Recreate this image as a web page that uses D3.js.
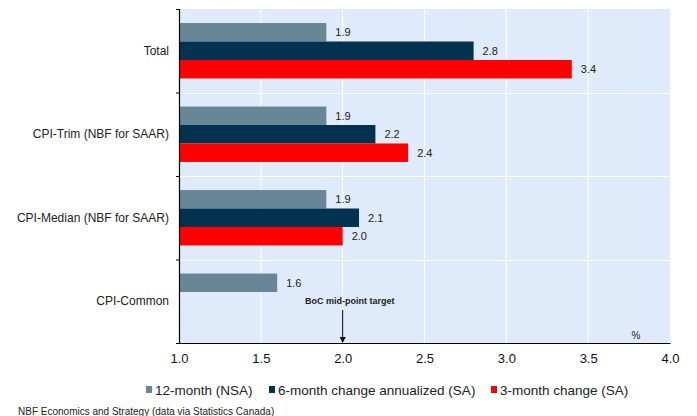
<!DOCTYPE html>
<html>
<head>
<meta charset="utf-8">
<script src="https://cdn.jsdelivr.net/npm/d3@7"></script>
<style>
  html, body { margin: 0; padding: 0; background: #ffffff; }
  svg { display: block; font-family: "Liberation Sans", Arial, sans-serif; }
</style>
</head>
<body>
<svg id="chart" width="697" height="416"></svg>
<script>
// Inflation measures, % change
const categories = ["Total", "CPI-Trim (NBF for SAAR)", "CPI-Median (NBF for SAAR)", "CPI-Common"];
const seriesNames = ["12-month (NSA)", "6-month change annualized (SA)", "3-month change (SA)"];
const twelveMonth = [1.9, 1.9, 1.9, 1.6];
const sixMonthAnnualized = [2.8, 2.2, 2.1, null];
const threeMonth = [3.4, 2.4, 2.0, null];
const seriesColors = ["#688796", "#02324f", "#ff0000"];
const xTicks = [1.0, 1.5, 2.0, 2.5, 3.0, 3.5, 4.0];
const targetValue = 2.0;

const seriesValues = [twelveMonth, sixMonthAnnualized, threeMonth];

const svg = d3.select("#chart");
const plot = { left: 179, right: 670, top: 9, bottom: 343 };

const x = d3.scaleLinear().domain([1, 4]).range([plot.left, plot.right]);
const y = d3.scaleBand().domain(categories).range([plot.top, plot.bottom]).padding(0);
const ySub = d3.scaleBand().domain(seriesNames).range([0, y.bandwidth()])
  .paddingInner(0).paddingOuter(0.76);

// plot background
svg.append("rect")
  .attr("x", plot.left).attr("y", plot.top)
  .attr("width", plot.right - plot.left).attr("height", plot.bottom - plot.top)
  .attr("fill", "#dfeafb");

// vertical gridlines
svg.append("g").selectAll("line")
  .data(xTicks.slice(1, -1))
  .join("line")
  .attr("x1", d => x(d)).attr("x2", d => x(d))
  .attr("y1", plot.top).attr("y2", plot.bottom)
  .attr("stroke", "#ffffff").attr("stroke-width", 1);

// horizontal separators between categories
svg.append("g").selectAll("line")
  .data(categories.slice(1))
  .join("line")
  .attr("x1", plot.left).attr("x2", plot.right)
  .attr("y1", d => Math.round(y(d)) + 0.5).attr("y2", d => Math.round(y(d)) + 0.5)
  .attr("stroke", "#ffffff").attr("stroke-width", 1);

// bars
const rows = [];
categories.forEach((c, ci) => {
  seriesNames.forEach((s, si) => {
    const v = seriesValues[si][ci];
    if (v !== null) rows.push({ category: c, series: s, si, value: v });
  });
});

svg.append("g").selectAll("rect")
  .data(rows)
  .join("rect")
  .attr("x", x(1))
  .attr("y", d => y(d.category) + ySub(d.series))
  .attr("width", d => x(d.value) - x(1))
  .attr("height", ySub.bandwidth())
  .attr("fill", d => seriesColors[d.si]);

// value labels
svg.append("g").selectAll("text")
  .data(rows)
  .join("text")
  .attr("x", d => x(d.value) + 9)
  .attr("y", d => y(d.category) + ySub(d.series) + ySub.bandwidth() / 2 + 4)
  .attr("font-size", 11)
  .attr("fill", "#222222")
  .text(d => d.value.toFixed(1));

// y axis
const yAxis = svg.append("g")
  .attr("transform", `translate(${plot.left},0)`)
  .call(d3.axisLeft(d3.scaleLinear().domain([0, 4]).range([plot.top, plot.bottom]))
    .tickValues([0, 1, 2, 3, 4]).tickSize(3).tickFormat(""));
yAxis.select(".domain").attr("stroke", "#000000").attr("stroke-width", 1.2);
yAxis.selectAll(".tick line").attr("stroke", "#000000");

// category labels
svg.append("g").selectAll("text")
  .data(categories)
  .join("text")
  .attr("x", 169)
  .attr("y", d => y(d) + y.bandwidth() / 2 + 4)
  .attr("text-anchor", "end")
  .attr("font-size", 12)
  .attr("fill", "#222222")
  .text(d => d);

// x axis
const xAxis = svg.append("g")
  .attr("transform", `translate(0,${plot.bottom})`)
  .call(d3.axisBottom(x).tickValues(xTicks).tickSize(0).tickPadding(11)
    .tickFormat(d3.format(".1f")));
xAxis.select(".domain").attr("stroke", "#000000").attr("stroke-width", 1.2);
xAxis.selectAll("text").attr("font-size", 13).attr("fill", "#111111")
  .attr("font-family", "Liberation Sans, Arial, sans-serif");

// unit label
svg.append("text")
  .attr("x", 636).attr("y", 339)
  .attr("text-anchor", "middle")
  .attr("font-size", 10)
  .attr("fill", "#222222")
  .text("%");

// target annotation with arrow
svg.append("text")
  .attr("x", x(targetValue) + 7).attr("y", 304)
  .attr("text-anchor", "middle")
  .attr("font-size", 9)
  .attr("font-weight", "bold")
  .attr("fill", "#222222")
  .text("BoC mid-point target");
svg.append("line")
  .attr("x1", x(targetValue)).attr("x2", x(targetValue))
  .attr("y1", 310).attr("y2", 338)
  .attr("stroke", "#000000").attr("stroke-width", 1);
svg.append("path")
  .attr("d", `M${x(targetValue) - 3},${337} L${x(targetValue) + 3},${337} L${x(targetValue)},${plot.bottom} Z`)
  .attr("fill", "#000000");

// legend
const legendItems = [
  { name: seriesNames[0], color: seriesColors[0], x: 146 },
  { name: seriesNames[1], color: seriesColors[1], x: 269 },
  { name: seriesNames[2], color: seriesColors[2], x: 491 }
];
const legend = svg.append("g");
legendItems.forEach(item => {
  legend.append("rect")
    .attr("x", item.x).attr("y", 386)
    .attr("width", 6).attr("height", 7)
    .attr("fill", item.color);
  legend.append("text")
    .attr("x", item.x + 9).attr("y", 395)
    .attr("font-size", 13.5)
    .attr("fill", "#222222")
    .text(item.name);
});

// source note
svg.append("text")
  .attr("x", 18).attr("y", 415)
  .attr("font-size", 10)
  .attr("fill", "#222222")
  .text("NBF Economics and Strategy (data via Statistics Canada)");
</script>
</body>
</html>
